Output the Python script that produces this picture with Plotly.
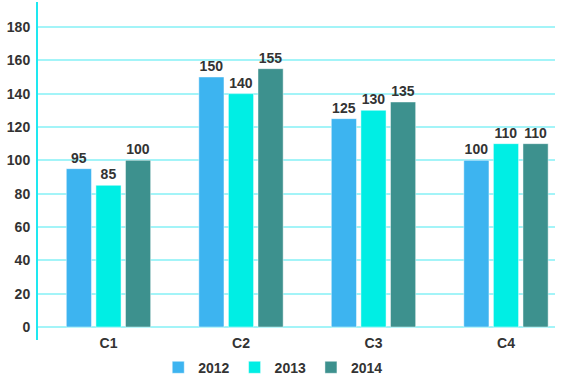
import plotly.graph_objects as go

categories = ["C1", "C2", "C3", "C4"]
years = ["2012", "2013", "2014"]
values_2012 = [95, 150, 125, 100]
values_2013 = [85, 140, 130, 110]
values_2014 = [100, 155, 135, 110]
colors = ["#3db4f0", "#00eee4", "#3d918e"]
y_ticks = [0, 20, 40, 60, 80, 100, 120, 140, 160, 180]

series = [values_2012, values_2013, values_2014]

fig = go.Figure()
for name, vals, col in zip(years, series, colors):
    fig.add_trace(go.Bar(
        x=categories, y=vals, name=name,
        marker=dict(color=col, line=dict(color="rgba(255,255,255,0.45)", width=1)),
        text=[str(v) for v in vals], textposition="outside",
        textfont=dict(family="Liberation Sans, Arial", size=14, color="#333333", weight="bold"),
        cliponaxis=False,
    ))

fig.update_layout(
    width=575, height=392,
    margin=dict(l=38, r=20, t=2, b=52, autoexpand=False),
    paper_bgcolor="white", plot_bgcolor="white",
    barmode="group", bargap=0.33, bargroupgap=0.15,
    font=dict(family="Liberation Sans, Arial", size=14, color="#333333"),
    showlegend=True,
    legend=dict(orientation="h", x=0.455, xanchor="center",
                yref="container", y=0.062, yanchor="middle",
                font=dict(size=14, color="#333333", weight="bold"),
                itemwidth=30, traceorder="normal"),
    xaxis=dict(range=[-0.532, 3.37], showgrid=False, showline=False, zeroline=False,
               ticks="", ticklabelstandoff=-7,
               tickfont=dict(size=14, color="#333333", weight="bold")),
    yaxis=dict(range=[-7.8, 195], tickvals=y_ticks, showgrid=True,
               gridcolor="#a3f4f8", gridwidth=2, zeroline=True, zerolinecolor="#a3f4f8",
               zerolinewidth=2, showline=True, linecolor="#1ee8f0", linewidth=2,
               ticks="", ticklabelstandoff=3,
               tickfont=dict(size=14, color="#333333", weight="bold")),
)

fig.write_html("out.html", config={"displayModeBar": False},
               post_script="document.body.style.margin='0';")
